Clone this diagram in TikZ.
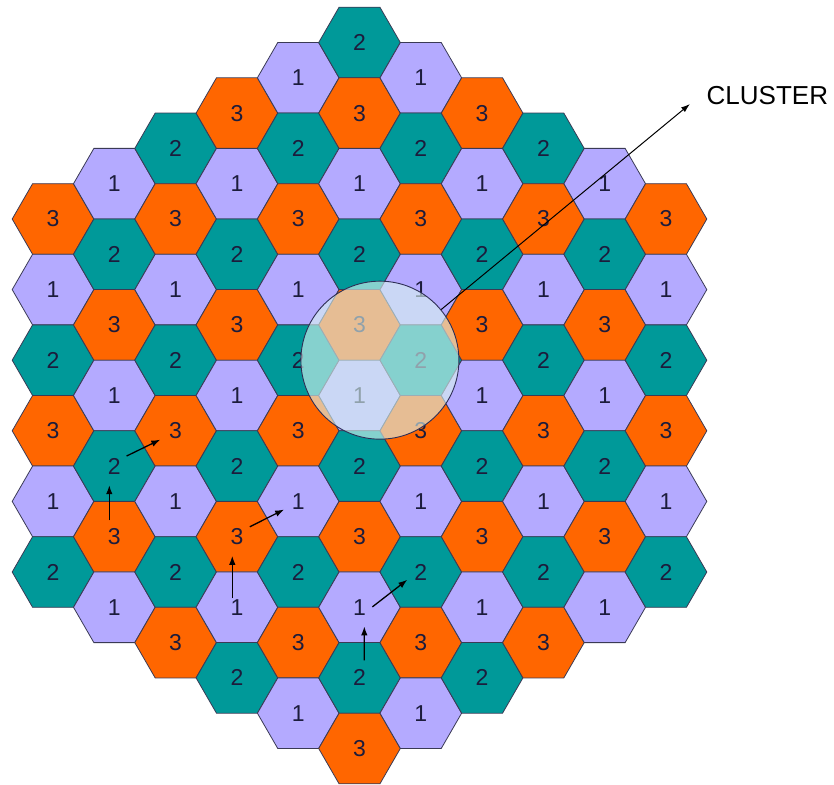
\documentclass[tikz,border=0pt]{standalone}
\usepackage{fontspec}
\setmainfont{Liberation Sans}
\usepackage{tikz}
\usetikzlibrary{
  arrows.meta,
  positioning,
  shapes.geometric,
  calc,
}
\definecolor{cellcol1}{HTML}{B4AAFF}
\definecolor{cellcol2}{HTML}{009999}
\definecolor{cellcol3}{HTML}{FF6600}
\definecolor{hexEdge}{HTML}{3A3A55}
\definecolor{digitInk}{HTML}{1C1C3C}
\definecolor{ringFill}{HTML}{D8F4F0}
\definecolor{ringEdge}{HTML}{2E2E55}
\tikzset{
  hexcell/.style={
    regular polygon, regular polygon sides=6,
    minimum size=81.6pt, inner sep=0pt, draw=hexEdge, line width=0.8pt,
    text=digitInk, font=\fontsize{23}{23}\selectfont,
  },
  clusterring/.style={
    circle, minimum size=158pt, inner sep=0pt, draw=ringEdge,
    line width=0.9pt, fill=ringFill, fill opacity=0.62,
  },
  arrowSmall/.style={
    -{Latex[length=9pt,width=6.5pt]}, line width=1.3pt, draw=black,
  },
  arrowThin/.style={
    -{Latex[length=9pt,width=6pt]}, line width=1pt, draw=black,
  },
}

\begin{document}
\begin{tikzpicture}[x=1pt,y=-1pt]
\useasboundingbox (0,0) rectangle (834,784);

% the 91 cells, reuse pattern of size 3
\foreach \q in {-5,...,5} {
  \pgfmathtruncatemacro\slo{max(-5,-5-\q)}
  \pgfmathtruncatemacro\shi{min(5,5-\q)}
  \foreach \s in {\slo,...,\shi} {
    \pgfmathtruncatemacro\lab{mod(\s+2*\q+30,3)+1}
    \node[hexcell, fill=cellcol\lab] (h\q r\s)
      at ({359.5+61.3*\q},{395.5+70.6*(\s+0.5*\q)}) {\lab};
  }
}

\node[clusterring] (cluster)
  at ($0.3333*(h0r0)+0.3333*(h0r-1)+0.3333*(h1r-1)$) {};

\coordinate (tip) at (690,104);
\draw[arrowThin] (cluster) -- (tip);
\node[anchor=base west, inner sep=0pt, font=\fontsize{26}{26}\selectfont]
  (clusterlabel) at ($(tip)+(16.5,0)$) {CLUSTER};

% co-channel steps: one up, one up-right
\draw[arrowSmall] ($(h-4r4)!0.23!(h-4r3)+(-5,0)$) -- ($(h-4r4)!0.73!(h-4r3)+(-5,0)$);
\draw[arrowSmall] ($(h-4r3)!0.2!(h-3r2)+(0,-3)$) -- ($(h-4r3)!0.75!(h-3r2)$);
\draw[arrowSmall] ($(h-2r4)!0.13!(h-2r3)+(-4.6,0)$) -- ($(h-2r4)!0.73!(h-2r3)+(-4.6,0)$);
\draw[arrowSmall] ($(h-2r3)!0.21!(h-1r2)+(0,-2.5)$) -- ($(h-2r3)!0.77!(h-1r2)$);
\draw[arrowSmall] ($(h0r4)!0.25!(h0r3)+(4.8,0)$) -- ($(h0r4)!0.73!(h0r3)+(4.8,0)$);
\draw[arrowSmall] ($(h0r3)!0.21!(h1r2)+(0,7)$) -- ($(h0r3)!0.78!(h1r2)$);

\end{tikzpicture}
\end{document}
